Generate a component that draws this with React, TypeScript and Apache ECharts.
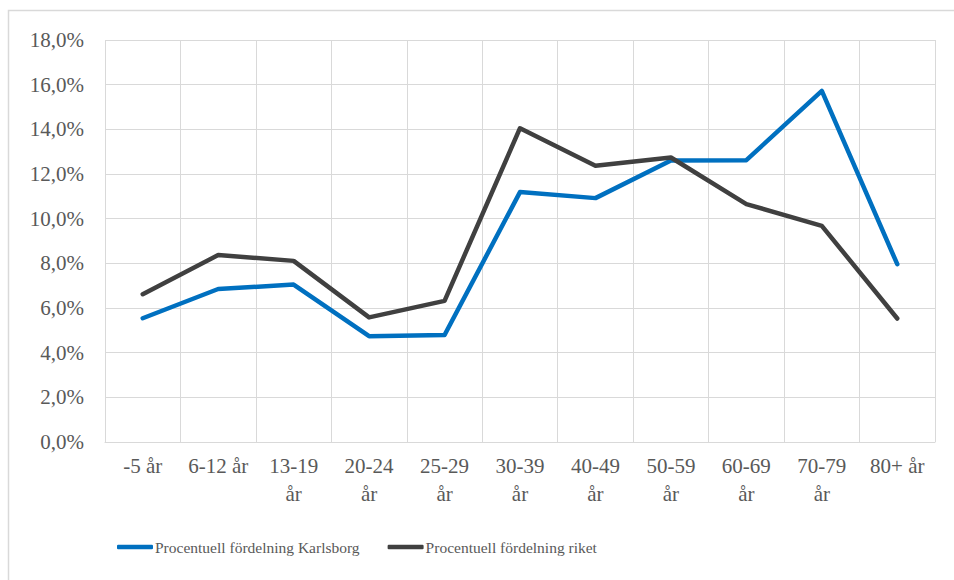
import React, { useEffect, useRef } from "react";
import * as echarts from "echarts";

const categories = ["-5 år", "6-12 år", "13-19 år", "20-24 år", "25-29 år", "30-39 år", "40-49 år", "50-59 år", "60-69 år", "70-79 år", "80+ år"];
const karlsborg = [5.54, 6.85, 7.05, 4.74, 4.79, 11.19, 10.92, 12.6, 12.62, 15.72, 7.96];
const riket = [6.62, 8.37, 8.11, 5.58, 6.32, 14.05, 12.37, 12.74, 10.65, 9.68, 5.53];
const seriesNames = ["Procentuell fördelning Karlsborg", "Procentuell fördelning riket"];

const FONT = "'Liberation Serif', 'DejaVu Serif', serif";
const TXT = "#595959";

export default function App() {
  const ref = useRef<HTMLDivElement>(null);
  useEffect(() => {
    if (!ref.current) return;
    const chart = echarts.init(ref.current, undefined, { renderer: "svg" });
    chart.setOption({
      animation: false,
      backgroundColor: "#ffffff",
      textStyle: { fontFamily: FONT },
      graphic: [
        {
          type: "rect",
          shape: { x: 8.5, y: 10.5, width: 960, height: 600 },
          style: { fill: "none", stroke: "#d9d9d9", lineWidth: 1.5 },
          silent: true,
        },
      ],
      grid: { left: 105, top: 40, right: 19, bottom: 138, containLabel: false },
      legend: {
        left: 117,
        top: 539,
        padding: 0,
        itemWidth: 36,
        itemHeight: 4.5,
        itemGap: 28,
        icon: "roundRect",
        textStyle: { fontFamily: FONT, fontSize: 15.5, color: TXT, padding: [0, 0, 0, -3] },
        data: seriesNames,
      },
      xAxis: {
        type: "category",
        data: categories,
        boundaryGap: true,
        axisLine: { show: true, lineStyle: { color: "#d9d9d9", width: 1 } },
        axisTick: { show: false },
        splitLine: { show: true, lineStyle: { color: "#d9d9d9", width: 1 } },
        axisLabel: {
          interval: 0,
          margin: 10,
          fontFamily: FONT,
          fontSize: 21,
          color: TXT,
          lineHeight: 28,
          formatter: (v: string) => (v.length > 7 ? v.replace(" ", "\n") : v),
        },
      },
      yAxis: {
        type: "value",
        min: 0,
        max: 18,
        interval: 2,
        axisLine: { show: false },
        axisTick: { show: false },
        splitLine: { show: true, lineStyle: { color: "#d9d9d9", width: 1 } },
        axisLabel: {
          margin: 21,
          fontFamily: FONT,
          fontSize: 21,
          color: TXT,
          formatter: (v: number) => v.toFixed(1).replace(".", ",") + "%",
        },
      },
      series: [
        {
          name: seriesNames[0],
          type: "line",
          data: karlsborg,
          symbol: "none",
          lineStyle: { color: "#0070C0", width: 4.5, cap: "round", join: "round" },
          itemStyle: { color: "#0070C0" },
        },
        {
          name: seriesNames[1],
          type: "line",
          data: riket,
          symbol: "none",
          lineStyle: { color: "#404040", width: 4.5, cap: "round", join: "round" },
          itemStyle: { color: "#404040" },
        },
      ],
    });
    return () => chart.dispose();
  }, []);
  return (
    <div
      ref={ref}
      style={{ position: "fixed", left: 0, top: 0, width: 954, height: 580 }}
    />
  );
}
